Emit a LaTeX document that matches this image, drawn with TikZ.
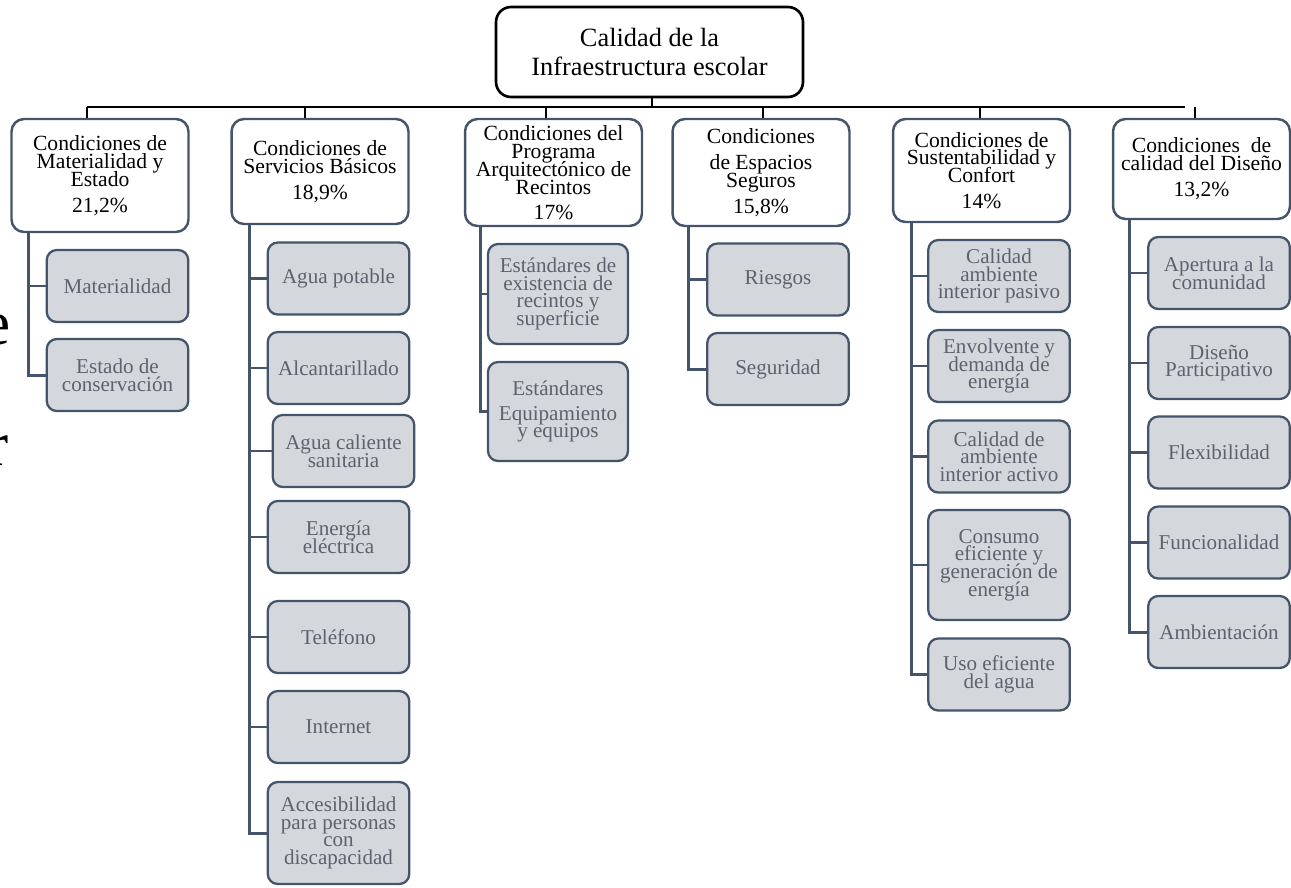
\documentclass[tikz,border=0pt]{standalone}
\usepackage{fontspec}
\setmainfont{Liberation Serif}
\usetikzlibrary{positioning, calc}

\definecolor{slate}{RGB}{68,84,106}
\definecolor{subfill}{RGB}{212,215,220}
\definecolor{subtext}{RGB}{92,98,110}

\newcommand{\headfont}{\fontsize{12.3}{10.2}\selectfont\lineskiplimit=-10pt\relax}
\newcommand{\subfont}{\fontsize{12}{10}\selectfont\lineskiplimit=-10pt\relax}

\begin{document}
\begin{tikzpicture}[
    x=0.02cm, y=-0.02cm,
    root/.style={rectangle, rounded corners=0.3cm, draw=black, line width=1.5pt, fill=white, minimum width=6.14cm, minimum height=1.8cm, align=center, font=\fontsize{15}{16}\selectfont},
    head/.style={rectangle, rounded corners=0.25cm, draw=slate, line width=1.4pt, fill=white, minimum width=3.54cm, align=center, inner sep=1pt, font=\headfont},
    sub/.style={rectangle, rounded corners=0.2cm, draw=slate, line width=1.3pt, fill=subfill, text=subtext, minimum width=2.83cm, minimum height=1.44cm, align=center, inner sep=1pt, font=\subfont},
    link/.style={black, line width=0.8pt},
    trunk/.style={slate, line width=1.7pt},
    branch/.style={slate, line width=1.4pt},
    big/.style={inner sep=0pt, anchor=base east, font=\fontsize{36}{40}\selectfont}
]
    \useasboundingbox (0,0) rectangle (1291,887);

    % Cut-off letters at the left edge
    \node[big] (cut-e) at (10.5,344) {e};
    \node[big] (cut-r) at (8.5,465) {r};

    % Root
    \node[root] (calidad) at (649.5,52) {Calidad de la\\Infraestructura escolar};

    % Conditions
    \node[head, minimum height=2.26cm] (mat-est) at (100,175.5) {Condiciones de\\Materialidad y\\Estado\\[4.5pt]21,2\%};
    \node[head, minimum height=2.1cm] (serv-bas) at (320,171.5) {Condiciones de\\Servicios Básicos\\[4.5pt]18,9\%};
    \node[head, minimum height=2.14cm] (prog-arq) at (553.5,172.5) {Condiciones del\\Programa\\Arquitectónico de\\Recintos\\[4pt]17\%};
    \node[head, minimum height=2.14cm] (esp-seg) at (761,172.5) {Condiciones\\[4.5pt]de Espacios\\Seguros\\[4.5pt]15,8\%};
    \node[head, minimum height=2.06cm] (sust-conf) at (981.5,170.5) {Condiciones de\\Sustentabilidad y\\Confort\\[4.5pt]14\%};
    \node[head, minimum height=2.0cm] (cal-dis) at (1201.5,169) {Condiciones\ \ de\\calidad del Diseño\\[4.5pt]13,2\%};

    % Materialidad y Estado
    \node[sub] (materialidad) at (117.5,286) {Materialidad};
    \node[sub] (estado) at (117.5,375) {Estado de\\conservación};

    % Servicios Basicos
    \node[sub] (agua-pot) at (338.5,278.5) {Agua potable};
    \node[sub] (alcant) at (338.5,368) {Alcantarillado};
    \node[sub] (agua-cal) at (343.5,451) {Agua caliente\\sanitaria};
    \node[sub] (energia) at (338.5,537) {Energía\\eléctrica};
    \node[sub] (telefono) at (338.5,637) {Teléfono};
    \node[sub] (internet) at (338.5,727) {Internet};
    \node[sub, minimum height=2.04cm] (accesib) at (338.5,833) {Accesibilidad\\para personas\\con\\discapacidad};

    % Programa Arquitectonico
    \node[sub, minimum width=2.8cm, minimum height=2.0cm] (std-rec) at (558,294) {Estándares de\\existencia de\\recintos y\\superficie};
    \node[sub, minimum width=2.8cm, minimum height=1.98cm] (std-equ) at (558,411.5) {Estándares\\[4pt]Equipamiento\\y equipos};

    % Espacios Seguros
    \node[sub] (riesgos) at (778,279.5) {Riesgos};
    \node[sub] (seguridad) at (778,369) {Seguridad};

    % Sustentabilidad y Confort
    \node[sub] (amb-pas) at (999,276) {Calidad\\ambiente\\interior pasivo};
    \node[sub] (envolv) at (999,366) {Envolvente y\\demanda de\\energía};
    \node[sub] (amb-act) at (999,456.5) {Calidad de\\ambiente\\interior activo};
    \node[sub, minimum height=2.2cm] (consumo) at (999,565) {Consumo\\eficiente y\\generación de\\energía};
    \node[sub] (uso-agua) at (999,674.5) {Uso eficiente\\del agua};

    % Calidad del Diseno
    \node[sub] (apertura) at (1219,273) {Apertura a la\\comunidad};
    \node[sub] (dis-part) at (1219,363) {Diseño\\Participativo};
    \node[sub] (flexib) at (1219,452.5) {Flexibilidad};
    \node[sub] (funcion) at (1219,542.5) {Funcionalidad};
    \node[sub] (ambient) at (1219,632) {Ambientación};

    % Top bar
    \coordinate (bar-l) at (87,107);
    \coordinate (bar-r) at (1185,107);
    \coordinate (k2) at (305,107);
    \coordinate (k3) at (546,107);
    \coordinate (k4) at (763,107);
    \coordinate (k5) at (980,107);
    \coordinate (k6) at (1195,107);
    \draw[link] (bar-l) -- (bar-r);
    \draw[link] ([xshift=0.05cm]calidad.south) -- ([xshift=0.05cm]calidad.south |- bar-l);
    \draw[link] (bar-l) -- (bar-l |- mat-est.north);
    \draw[link] (k2) -- (k2 |- serv-bas.north);
    \draw[link] (k3) -- (k3 |- prog-arq.north);
    \draw[link] (k4) -- (k4 |- esp-seg.north);
    \draw[link] (k5) -- (k5 |- sust-conf.north);
    \draw[link] (k6) -- (k6 |- cal-dis.north);

    % Trunks
    \coordinate (t1) at ([xshift=0.36cm]mat-est.south west);
    \coordinate (t2) at ([xshift=0.38cm]serv-bas.south west);
    \coordinate (t3) at ([xshift=0.34cm]prog-arq.south west);
    \coordinate (t4) at ([xshift=0.34cm]esp-seg.south west);
    \coordinate (t5) at ([xshift=0.4cm]sust-conf.south west);
    \coordinate (t6) at ([xshift=0.36cm]cal-dis.south west);
    \draw[trunk] (t1) |- (estado.west);
    \draw[trunk] (t2) |- (accesib.west);
    \draw[trunk] (t3) |- (std-equ.west);
    \draw[trunk] (t4) |- (seguridad.west);
    \draw[trunk] (t5) |- (uso-agua.west);
    \draw[trunk] (t6) |- (ambient.west);

    % Branches
    \draw[branch] (materialidad.west) -- (materialidad.west -| t1);
    \draw[branch] (agua-pot.west) -- (agua-pot.west -| t2);
    \draw[branch] (alcant.west) -- (alcant.west -| t2);
    \draw[branch] (agua-cal.west) -- (agua-cal.west -| t2);
    \draw[branch] (energia.west) -- (energia.west -| t2);
    \draw[branch] (telefono.west) -- (telefono.west -| t2);
    \draw[branch] (internet.west) -- (internet.west -| t2);
    \draw[branch] (std-rec.west) -- (std-rec.west -| t3);
    \draw[branch] (riesgos.west) -- (riesgos.west -| t4);
    \draw[branch] (amb-pas.west) -- (amb-pas.west -| t5);
    \draw[branch] (envolv.west) -- (envolv.west -| t5);
    \draw[branch] (amb-act.west) -- (amb-act.west -| t5);
    \draw[branch] (consumo.west) -- (consumo.west -| t5);
    \draw[branch] (apertura.west) -- (apertura.west -| t6);
    \draw[branch] (dis-part.west) -- (dis-part.west -| t6);
    \draw[branch] (flexib.west) -- (flexib.west -| t6);
    \draw[branch] (funcion.west) -- (funcion.west -| t6);
\end{tikzpicture}
\end{document}
